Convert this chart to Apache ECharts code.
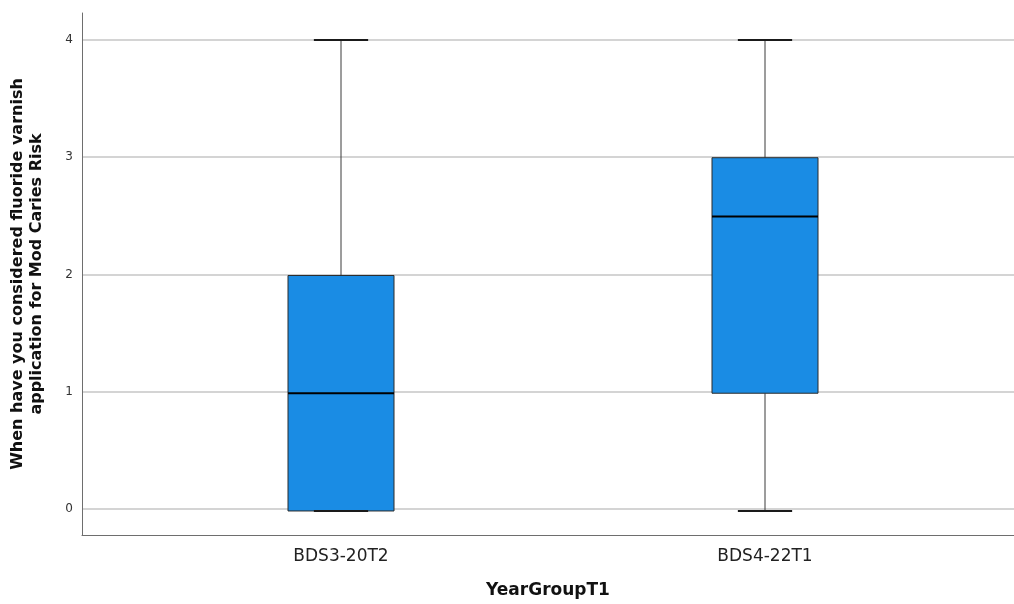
<!DOCTYPE html>
<html>
<head>
<meta charset="utf-8">
<script src="https://cdn.jsdelivr.net/npm/echarts@6/dist/echarts.min.js"></script>
<style>
  html, body { margin: 0; padding: 0; background: #fff; }
  #chart { width: 1014px; height: 604px; }
</style>
</head>
<body>
<div id="chart"></div>
<script>
// Five-number summaries per year group
const groups = ['BDS3-20T2', 'BDS4-22T1'];
const minVals = [0, 0];
const q1Vals = [0, 1];
const medianVals = [1, 2.5];
const q3Vals = [2, 3];
const maxVals = [4, 4];

const yTitle = 'When have you considered fluoride varnish\napplication for Mod Caries Risk';
const xTitle = 'YearGroupT1';

const boxData = groups.map((g, i) => [i, minVals[i], q1Vals[i], medianVals[i], q3Vals[i], maxVals[i]]);

const Y_MIN = -0.221, Y_MAX = 4.229;
const FONT = '"DejaVu Sans", sans-serif';

function renderBox(params, api) {
  const x = api.value(0);
  const band = api.size([1, 0])[0];
  const half = band * 0.125;
  const capHalf = band * 0.064;
  const pMin = api.coord([x, api.value(1)]);
  const pQ1 = api.coord([x, api.value(2)]);
  const pMed = api.coord([x, api.value(3)]);
  const pQ3 = api.coord([x, api.value(4)]);
  const pMax = api.coord([x, api.value(5)]);
  const cx = pMed[0];
  const whisker = { stroke: '#3a3a3a', lineWidth: 1 };
  const cap = { stroke: '#1a1a1a', lineWidth: 2 };
  return {
    type: 'group',
    children: [
      { type: 'line', shape: { x1: cx, y1: pQ3[1], x2: cx, y2: pMax[1] }, style: whisker },
      { type: 'line', shape: { x1: cx, y1: pQ1[1], x2: cx, y2: pMin[1] }, style: whisker },
      { type: 'rect', shape: { x: cx - half, y: pQ3[1], width: half * 2, height: pQ1[1] - pQ3[1] },
        style: { fill: '#1a8ce4', stroke: '#2b2b2b', lineWidth: 1 } },
      { type: 'line', shape: { x1: cx - half, y1: pMed[1], x2: cx + half, y2: pMed[1] },
        style: { stroke: '#000', lineWidth: 2 } },
      { type: 'line', shape: { x1: cx - capHalf, y1: pMax[1], x2: cx + capHalf, y2: pMax[1] }, style: cap },
      { type: 'line', shape: { x1: cx - capHalf, y1: pMin[1], x2: cx + capHalf, y2: pMin[1] }, style: cap }
    ]
  };
}

const chart = echarts.init(document.getElementById('chart'), null, { renderer: 'canvas' });
chart.setOption({
  backgroundColor: '#ffffff',
  animation: false,
  grid: [
    { left: 82, right: 0, top: 13, bottom: 67 },
    { left: 129, right: 37, top: 13, bottom: 67 }
  ],
  xAxis: [
    {
      gridIndex: 0, type: 'value', min: 0, max: 1,
      axisLine: { show: true, onZero: false, lineStyle: { color: '#6e6e6e', width: 1 } },
      axisTick: { show: false }, axisLabel: { show: false }, splitLine: { show: false },
      name: xTitle, nameLocation: 'middle', nameGap: 47,
      nameTextStyle: { fontFamily: FONT, fontSize: 17, fontWeight: 'bold', color: '#111' }
    },
    {
      gridIndex: 1, type: 'category', data: groups,
      axisLine: { show: false }, axisTick: { show: false },
      axisLabel: { margin: 11, fontFamily: FONT, fontSize: 17, color: '#222' }
    }
  ],
  yAxis: [
    {
      gridIndex: 0, type: 'value', min: Y_MIN, max: Y_MAX, splitNumber: 4,
      axisLine: { show: true, onZero: false, lineStyle: { color: '#6e6e6e', width: 1 } },
      axisTick: { show: false },
      axisLabel: {
        margin: 9, fontFamily: FONT, fontSize: 12, color: '#333',
        showMinLabel: false, showMaxLabel: false,
        formatter: v => (Math.abs(v - Math.round(v)) < 1e-6 ? String(Math.round(v)) : '')
      },
      splitLine: { show: true, showMinLine: false, showMaxLine: false, lineStyle: { color: '#c6c6c6', width: 1.5 } },
      name: yTitle, nameLocation: 'middle', nameGap: 36, nameRotate: 90,
      nameTextStyle: { fontFamily: FONT, fontSize: 16, fontWeight: 'bold', color: '#111', lineHeight: 19, align: 'center' }
    },
    { gridIndex: 1, type: 'value', min: Y_MIN, max: Y_MAX, show: false }
  ],
  series: [{
    type: 'custom',
    xAxisIndex: 1, yAxisIndex: 1,
    renderItem: renderBox,
    encode: { x: 0, y: [1, 2, 3, 4, 5] },
    data: boxData
  }]
});
</script>
</body>
</html>
